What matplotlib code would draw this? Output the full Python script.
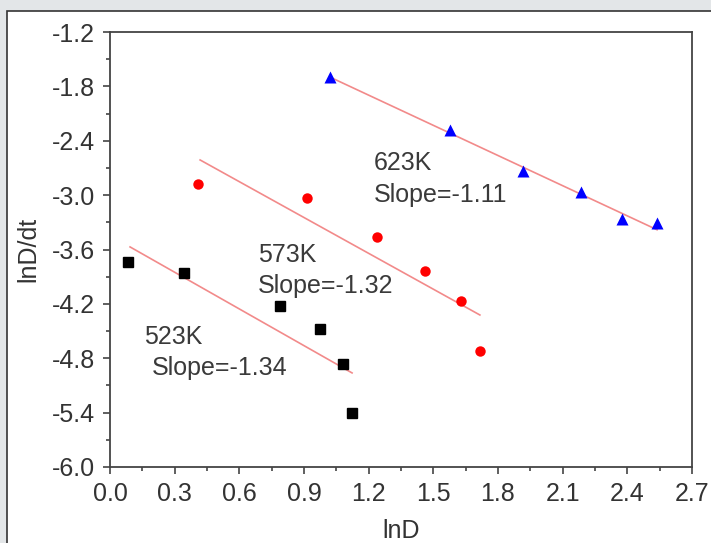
import numpy as np
import matplotlib
matplotlib.use('Agg')
import matplotlib.pyplot as plt
from matplotlib.patches import Rectangle
from matplotlib.ticker import MultipleLocator, FormatStrFormatter

plt.rcParams['font.family'] = ['Liberation Sans', 'DejaVu Sans']

# 523K - black squares
x523 = [0.084, 0.343, 0.789, 0.974, 1.081, 1.123]
y523 = [-3.74, -3.86, -4.22, -4.48, -4.86, -5.40]
# 573K - red circles
x573 = [0.408, 0.914, 1.239, 1.461, 1.628, 1.716]
y573 = [-2.88, -3.03, -3.46, -3.84, -4.17, -4.72]
# 623K - blue triangles
x623 = [1.021, 1.577, 1.916, 2.185, 2.375, 2.538]
y623 = [-1.70, -2.28, -2.73, -2.97, -3.26, -3.31]

# fitted lines: (x start, x end, slope, intercept)
fit523 = (0.093, 1.123, -1.35, -3.446)
fit573 = (0.418, 1.716, -1.318, -2.061)
fit623 = (1.021, 2.538, -1.11, -0.565)

fig = plt.figure(figsize=(7.11, 5.43), dpi=100)
fig.patch.set_facecolor('#e3e6e8')
fig.patches.append(Rectangle((7/711, -0.01), 1.0, 1 - 11/543 + 0.01,
                             transform=fig.transFigure, facecolor='white',
                             edgecolor='#333333', linewidth=1.2, zorder=-5))

ax = fig.add_axes([110/711, 1 - 467/543, 582/711, 435/543])
ax.set_facecolor('white')

for fit in (fit523, fit573, fit623):
    xs = np.array([fit[0], fit[1]])
    ax.plot(xs, fit[3] + fit[2] * xs, color='#f28a8a', lw=1.2, zorder=2)

ax.plot(x523, y523, 's', color='black', ms=6.8, zorder=3)
ax.plot(x573, y573, 'o', color='#ff0000', ms=7.5, mec='none', zorder=3)
ax.plot(x623, y623, '^', color='#0000ff', ms=8, mec='none', zorder=3)

txt = dict(fontsize=18, color='#3a3a3a', va='center', ha='left')
ax.text(1.225, -2.64, '623K', **txt)
ax.text(1.225, -3.00, 'Slope=-1.11', **txt)
ax.text(0.685, -3.66, '573K', **txt)
ax.text(0.685, -4.00, 'Slope=-1.32', **txt)
ax.text(0.158, -4.56, '523K', **txt)
ax.text(0.195, -4.91, 'Slope=-1.34', **txt)

ax.set_xlim(0.0, 2.7)
ax.set_ylim(-6.0, -1.2)
ax.xaxis.set_major_locator(MultipleLocator(0.3))
ax.xaxis.set_minor_locator(MultipleLocator(0.15))
ax.yaxis.set_major_locator(MultipleLocator(0.6))
ax.yaxis.set_minor_locator(MultipleLocator(0.3))
ax.xaxis.set_major_formatter(FormatStrFormatter('%.1f'))
ax.yaxis.set_major_formatter(FormatStrFormatter('%.1f'))

for s in ax.spines.values():
    s.set_color('#444444')
    s.set_linewidth(1.3)
ax.tick_params(which='major', direction='out', length=5, width=1.2,
               color='#444444', labelsize=18, labelcolor='#333333', pad=6,
               top=False, right=False)
ax.tick_params(which='minor', direction='out', length=3, width=1.2,
               color='#444444', top=False, right=False)

ax.set_xlabel('lnD', fontsize=18, color='#333333', labelpad=9)
ax.set_ylabel('lnD/dt', fontsize=18, color='#333333', labelpad=8)

fig.savefig('out.png', dpi=100, facecolor=fig.get_facecolor())
